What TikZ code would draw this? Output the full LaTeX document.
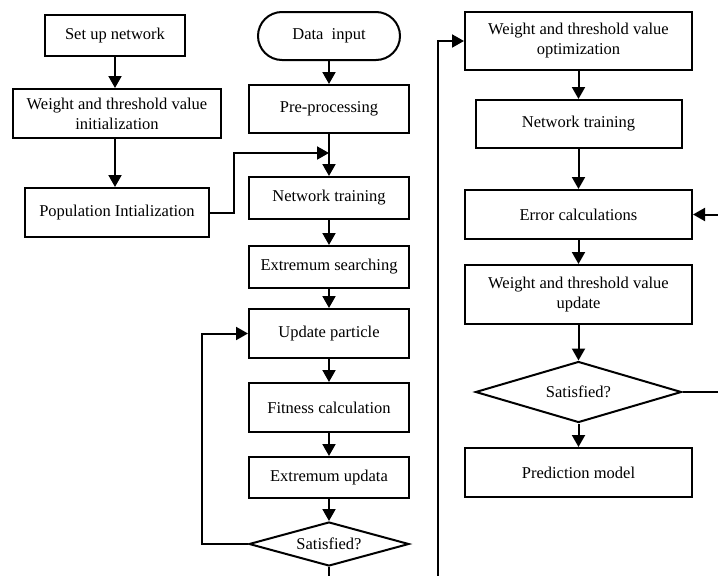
\documentclass[tikz,border=0pt]{standalone}
\usepackage{fontspec}
\setmainfont{Liberation Serif}
\usetikzlibrary{shapes.geometric,arrows.meta}
\begin{document}
\begin{tikzpicture}[x=1pt,y=-1pt,
  every node/.style={font=\fontsize{16.5}{20}\selectfont},
  box/.style={draw,line width=2pt,align=center,inner sep=0pt},
  dia/.style={draw,diamond,line width=2pt,align=center,inner sep=0pt},
  flow/.style={line width=2pt,-{Triangle[length=12pt,width=13pt]}}]
\useasboundingbox (0,0) rectangle (718,576);
\clip (0,0) rectangle (718,576);
% left column
\node[box,minimum width=140,minimum height=41] (setup) at (115,35.5) {Set up network};
\node[box,minimum width=208,minimum height=49] (winit) at (117,113.5) {Weight and threshold value\\initialization};
\node[box,minimum width=184,minimum height=49] (pop) at (117,212.5) {Population Intialization};
% middle column
\node[box,minimum width=142,minimum height=48,rounded corners=24pt] (data) at (329,36) {Data\ \ input};
\node[box,minimum width=160,minimum height=48] (pre) at (329,109) {Pre-processing};
\node[box,minimum width=160,minimum height=42] (net1) at (329,198) {Network training};
\node[box,minimum width=160,minimum height=42] (exs) at (329,267) {Extremum searching};
\node[box,minimum width=160,minimum height=49] (upd) at (329,333.5) {Update particle};
\node[box,minimum width=160,minimum height=49] (fit) at (329,407.5) {Fitness calculation};
\node[box,minimum width=160,minimum height=41] (exu) at (329,477.5) {Extremum updata};
\node[dia,aspect=3.6,minimum width=160,minimum height=44] (sat1) at (329,544) {Satisfied?};
% right column
\node[box,minimum width=227,minimum height=58] (opt) at (578.5,41) {Weight and threshold value\\optimization};
\node[box,minimum width=206,minimum height=48] (net2) at (578.5,124) {Network training};
\node[box,minimum width=227,minimum height=49] (err) at (578.5,214.5) {Error calculations};
\node[box,minimum width=227,minimum height=59] (wupd) at (578.5,294.5) {Weight and threshold value\\update};
\node[dia,aspect=3.4,minimum width=206,minimum height=61] (sat2) at (578.5,392) {Satisfied?};
\node[box,minimum width=227,minimum height=49] (pred) at (578.5,472.5) {Prediction model};
% helper coordinates
\coordinate (j1) at (329,153);
\coordinate (b1) at (329,620);
\coordinate (b2) at (438,620);
\coordinate (r1) at (760,392);
% connectors
\draw[flow] (setup.south) -- (setup.south |- winit.north);
\draw[flow] (winit.south -| setup.south) -- (setup.south |- pop.north);
\draw[flow] (data) -- (pre);
\draw[flow] (pre) -- (net1);
\draw[flow] (pop.east) -- ++(24,0) |- (j1);
\draw[flow] (net1) -- (exs);
\draw[flow] (exs) -- (upd);
\draw[flow] (upd) -- (fit);
\draw[flow] (fit) -- (exu);
\draw[flow] (exu) -- (sat1);
\draw[flow] (sat1.west) -- ++(-46,0) |- (upd.west);
\draw[flow] (sat1.south) -- (b1) -- (b2) |- (opt.west);
\draw[flow] (opt) -- (net2);
\draw[flow] (net2) -- (err);
\draw[flow] (err) -- (wupd);
\draw[flow] (wupd) -- (sat2);
\draw[flow] (sat2) -- (pred);
\draw[flow] (sat2.east) -- (r1) |- (err.east);
\end{tikzpicture}
\end{document}
